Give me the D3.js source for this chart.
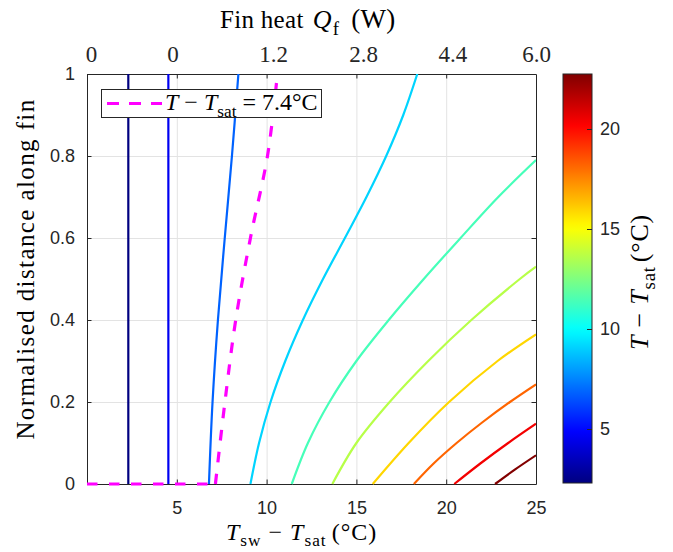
<!DOCTYPE html>
<html><head><meta charset="utf-8">
<script src="https://cdn.jsdelivr.net/npm/d3@7"></script>
<style>body{margin:0;background:#fff}svg{display:block}</style>
</head><body>
<script>
// ---------- data ----------
const xTicks = [5, 10, 15, 20, 25];
const yTicks = [0, 0.2, 0.4, 0.6, 0.8, 1];
const yTickLabels = ["0", "0.2", "0.4", "0.6", "0.8", "1"];
const topTickPos = [0.22, 4.76, 10.36, 15.37, 20.35, 25];
const topTickLabels = ["0", "0", "1.2", "2.8", "4.4", "6.0"];
const cbDomain = [2.3, 22.75];
const cbTicks = [5, 10, 15, 20];
const levels = [2.3, 4.57, 6.83, 9.1, 11.37, 13.63, 15.9, 18.17, 20.43, 22.7];

const cx0 = [2.3, 2.3],   cy0 = [0, 1];
const cx1 = [4.53, 4.53], cy1 = [0, 1];
const cx2 = [6.79, 6.99, 7.29, 7.67, 8.07, 8.43], cy2 = [0, 0.2, 0.4, 0.6, 0.8, 1.0];
const cx3 = [9.1, 9.58, 10.22, 11.04, 12.02, 13.14, 14.36, 15.56, 16.66, 17.61, 18.39], cy3 = [0, 0.1, 0.2, 0.3, 0.4, 0.5, 0.6, 0.7, 0.8, 0.9, 1.0];
const cx4 = [11.4, 12.3, 13.5, 15.0, 16.8, 18.75, 20.8, 22.9, 25], cy4 = [0, 0.1, 0.2, 0.3, 0.4, 0.5, 0.6, 0.7, 0.79];
const cx5 = [13.66, 15.0, 16.85, 19.0, 21.4, 24.1, 25], cy5 = [0, 0.1, 0.2, 0.3, 0.4, 0.5, 0.53];
const cx6 = [15.91, 17.91, 20.16, 22.86, 25], cy6 = [0, 0.1, 0.2, 0.3, 0.365];
const cx7 = [18.2, 19.3, 20.58, 22.0, 23.55, 25], cy7 = [0, 0.05, 0.1, 0.15, 0.2, 0.243];
const cx8 = [20.45, 21.9, 23.45, 25], cy8 = [0, 0.05, 0.1, 0.147];
const cx9 = [22.72, 23.82, 25], cy9 = [0, 0.035, 0.07];

const thrX0 = [0, 7.15], thrY0 = [0, 0];
const thrX = [7.15, 7.68, 8.28, 9.1, 10.05, 10.55], thrY = [0, 0.2, 0.4, 0.6, 0.8, 0.978];
const thrLevel = "7.4";

// ---------- setup ----------
const W = 673, H = 552;
const L = 87, R = 536, T = 74, B = 484;
const axisColor = "#262626";
const sans = "'Liberation Sans', Arial, Helvetica, sans-serif";
const serif = "'Liberation Serif', 'Times New Roman', serif";
const tickFs = 18, mathFs = 26;

const svg = d3.select("body").append("svg").attr("width", W).attr("height", H);
const x = d3.scaleLinear().domain([0, 25]).range([L, R]);
const y = d3.scaleLinear().domain([0, 1]).range([B, T]);
const cb = d3.scaleLinear().domain(cbDomain).range([483, 74]);

function jet(t) {
  const c = v => Math.max(0, Math.min(1, v));
  return d3.rgb(255 * c(1.5 - Math.abs(4 * t - 3)), 255 * c(1.5 - Math.abs(4 * t - 2)), 255 * c(1.5 - Math.abs(4 * t - 1))).formatHex();
}
const levelColor = v => jet((v - cbDomain[0]) / (cbDomain[1] - cbDomain[0]));

// grid
const grid = svg.append("g");
grid.append("g").attr("transform", `translate(0,${B})`)
  .call(d3.axisBottom(x).tickValues([5, 10, 15, 20]).tickSize(-(B - T)).tickFormat(""))
  .call(g => g.select(".domain").remove())
  .selectAll("line").attr("stroke", "#e3e3e3").attr("stroke-width", 1);
grid.append("g").attr("transform", `translate(${L},0)`)
  .call(d3.axisLeft(y).tickValues([0.2, 0.4, 0.6, 0.8]).tickSize(-(R - L)).tickFormat(""))
  .call(g => g.select(".domain").remove())
  .selectAll("line").attr("stroke", "#e3e3e3").attr("stroke-width", 1);

// axes
function styleAxis(g, font, fs) {
  g.select(".domain").attr("stroke", axisColor).attr("stroke-width", 1);
  g.selectAll(".tick line").attr("stroke", axisColor);
  g.selectAll("text").attr("fill", axisColor).attr("font-family", font || sans).attr("font-size", fs || tickFs);
}
svg.append("g").attr("transform", `translate(0,${B})`)
  .call(d3.axisBottom(x).tickValues(xTicks).tickSizeInner(-4.5).tickSizeOuter(0).tickPadding(17).tickFormat(d3.format("d")))
  .call(styleAxis);
svg.append("g").attr("transform", `translate(${L},0)`)
  .call(d3.axisLeft(y).tickValues(yTicks).tickSizeInner(-4.5).tickSizeOuter(0).tickPadding(12).tickFormat((d, i) => yTickLabels[i]))
  .call(styleAxis);
svg.append("g").attr("transform", `translate(0,${T})`)
  .call(d3.axisTop(x).tickValues([5, 10, 15, 20]).tickSizeInner(-4.5).tickSizeOuter(0).tickFormat(""))
  .call(styleAxis);
svg.append("g").attr("transform", `translate(0,${T})`)
  .call(d3.axisTop(x).tickValues(topTickPos).tickSize(0).tickPadding(12).tickFormat((d, i) => topTickLabels[i]))
  .call(g => styleAxis(g, serif, 23)).call(g => g.select(".domain").remove());
svg.append("g").attr("transform", `translate(${R},0)`)
  .call(d3.axisRight(y).tickValues(yTicks).tickSizeInner(-4.5).tickSizeOuter(0).tickFormat(""))
  .call(styleAxis);

// clip (slightly larger so lines on the edges show fully)
svg.append("clipPath").attr("id", "clip").append("rect")
  .attr("x", L).attr("y", T).attr("width", R - L).attr("height", B - T + 2);
const plot = svg.append("g").attr("clip-path", "url(#clip)");

const line = d3.line().x(d => x(d[0])).y(d => y(d[1])).curve(d3.curveCatmullRom.alpha(0.5));
const contours = [[cx0, cy0], [cx1, cy1], [cx2, cy2], [cx3, cy3], [cx4, cy4], [cx5, cy5], [cx6, cy6], [cx7, cy7], [cx8, cy8], [cx9, cy9]];
contours.forEach((c, i) => {
  plot.append("path").datum(d3.zip(c[0], c[1]))
    .attr("d", line).attr("fill", "none")
    .attr("stroke", levelColor(levels[i])).attr("stroke-width", 2.2);
});

// threshold (magenta dashed)
const dash = "10.5,11.5";
plot.append("path").datum(d3.zip(thrX0, thrY0))
  .attr("d", d3.line().x(d => x(d[0])).y(d => y(d[1])))
  .attr("fill", "none").attr("stroke", "#ff00ff").attr("stroke-width", 3.2).attr("stroke-dasharray", dash);
plot.append("path").datum(d3.zip(thrX, thrY))
  .attr("d", line).attr("fill", "none").attr("stroke", "#ff00ff").attr("stroke-width", 3.2).attr("stroke-dasharray", dash);

// math text helper
function addMath(text, parts, fs, subShift) {
  let shift = 0;
  const ss = subShift == null ? 0.28 : subShift;
  parts.forEach(p => {
    const target = p.sub ? fs * ss : 0;
    const t = text.append("tspan").text(p.s)
      .attr("dy", target - shift)
      .attr("font-size", p.fs || (p.sub ? fs * 0.72 : fs));
    shift = target;
    if (p.i) t.attr("font-style", "italic");
    if (p.dx) t.attr("dx", p.dx);
  });
}
function mkText(xp, yp, anchor, rot, ls) {
  return svg.append("text")
    .attr("transform", `translate(${xp},${yp})` + (rot ? " rotate(-90)" : ""))
    .attr("text-anchor", anchor).attr("font-family", serif)
    .attr("fill", "#000").attr("letter-spacing", ls || 0);
}

// titles
addMath(mkText(226, 540, "start", false, 1.0), [
  { s: "T", i: true }, { s: "sw", sub: true }, { s: " − " }, { s: "T", i: true }, { s: "sat", sub: true }, { s: "(°C)", dx: 5 }
], 24, 0.24);
addMath(mkText(220, 28, "start", false, 0.3), [
  { s: "Fin heat", fs: 25 }, { s: "Q", i: true, dx: 9 }, { s: "f", sub: true, dx: 1 }, { s: "(W)", dx: 12, fs: 27 }
], mathFs);
mkText(34, 269, "middle", true, 1.4).attr("font-size", 25).text("Normalised distance along fin");

// legend
svg.append("rect").attr("x", 101.5).attr("y", 89.5).attr("width", 220).attr("height", 28)
  .attr("fill", "#fff").attr("stroke", axisColor).attr("stroke-width", 1);
svg.append("line").attr("x1", 107).attr("x2", 162).attr("y1", 103.5).attr("y2", 103.5)
  .attr("stroke", "#ff00ff").attr("stroke-width", 3.2).attr("stroke-dasharray", "12,10");
addMath(mkText(165, 110, "start", false, 0), [
  { s: "T", i: true }, { s: " − " }, { s: "T", i: true }, { s: "sat", sub: true }, { s: " = " + thrLevel + "°C" }
], 24);

// colorbar
const defs = svg.append("defs");
const grad = defs.append("linearGradient").attr("id", "jet").attr("x1", 0).attr("x2", 0).attr("y1", 1).attr("y2", 0);
d3.range(64).forEach(i => {
  const t = i / 63;
  grad.append("stop").attr("offset", t).attr("stop-color", jet(t));
});
svg.append("rect").attr("x", 563).attr("y", 74).attr("width", 29).attr("height", 409)
  .attr("fill", "url(#jet)").attr("stroke", axisColor).attr("stroke-width", 1);
svg.append("g").attr("transform", "translate(592,0)")
  .call(d3.axisRight(cb).tickValues(cbTicks).tickSizeInner(-5).tickSizeOuter(0).tickPadding(8))
  .call(styleAxis).call(g => g.select(".domain").remove());
addMath(mkText(648, 350, "start", true, 0.8), [
  { s: "T", i: true }, { s: " − " }, { s: "T", i: true }, { s: "sat", sub: true }, { s: "(°C)", dx: 4 }
], mathFs);
</script>
</body></html>
